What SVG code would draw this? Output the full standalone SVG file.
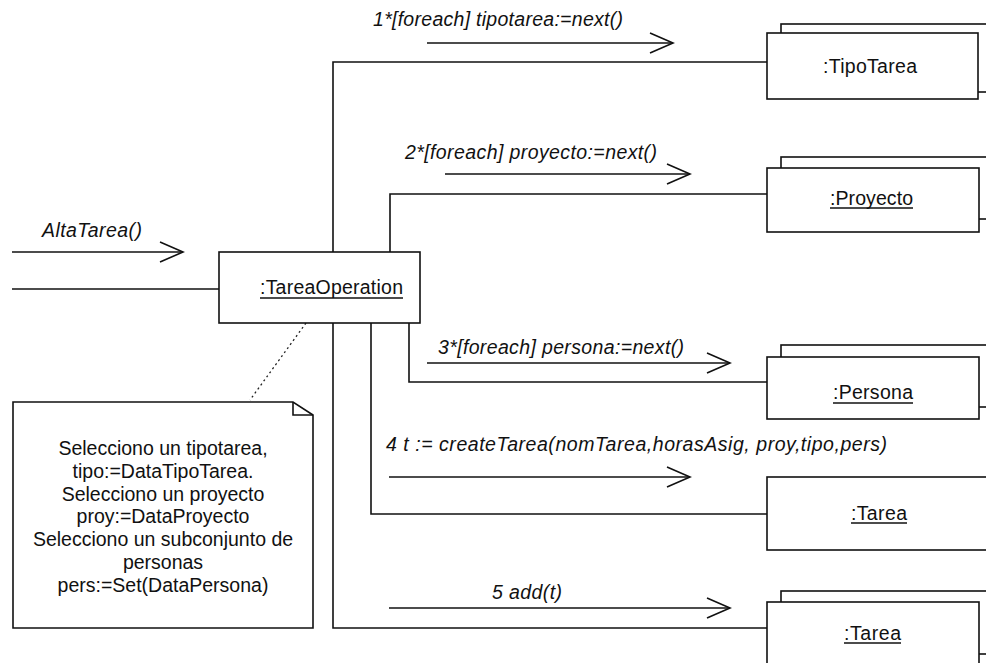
<svg xmlns="http://www.w3.org/2000/svg" width="986" height="663" viewBox="0 0 986 663">
  <style>
    .box { fill: #fff; stroke: #111; stroke-width: 1.6; }
    .link { fill: none; stroke: #111; stroke-width: 1.6; }
    .msg { fill: none; stroke: #111; stroke-width: 1.6; marker-end: url(#open); }
    .ul { stroke: #111; stroke-width: 1.3; }
    .lbl { font-family: "Liberation Sans", Arial, sans-serif; font-size: 19.5px; font-style: italic; fill: #111; }
    .name { font-family: "Liberation Sans", Arial, sans-serif; font-size: 19.5px; fill: #111; }
    .note { font-family: "Liberation Sans", Arial, sans-serif; font-size: 19.5px; fill: #111; text-anchor: middle; }
    .anchor { fill: none; stroke: #222; stroke-width: 1.3; stroke-dasharray: 2 3; }
  </style>
  <defs>
    <!-- open V arrowhead used by every message -->
    <marker id="open" markerUnits="userSpaceOnUse" viewBox="0 0 26 22" markerWidth="26" markerHeight="22" refX="24" refY="11" orient="auto">
      <path d="M1,1 L24,11 L1,21" fill="none" stroke="#111" stroke-width="1.6"/>
    </marker>
  </defs>

  <rect width="986" height="663" fill="#fff"/>

  <!-- links and messages -->
  <g id="connectors">
    <path class="link" d="M12,289 H219"/>
    <path class="link" d="M333,252 V62 H767"/>
    <path class="link" d="M390,252 V194 H767"/>
    <path class="link" d="M409,323 V382 H767"/>
    <path class="link" d="M371,323 V514 H767"/>
    <path class="link" d="M333,323 V628 H767"/>

    <path class="msg" d="M12,252 H183"/>
    <text class="lbl" x="42" y="237" textLength="100" lengthAdjust="spacing">AltaTarea()</text>

    <path class="msg" d="M427,43 H673"/>
    <text class="lbl" x="373" y="26" textLength="250" lengthAdjust="spacing">1*[foreach] tipotarea:=next()</text>

    <path class="msg" d="M445,174 H690"/>
    <text class="lbl" x="405" y="159" textLength="252" lengthAdjust="spacing">2*[foreach] proyecto:=next()</text>

    <path class="msg" d="M427,363 H730"/>
    <text class="lbl" x="438" y="354" textLength="246" lengthAdjust="spacing">3*[foreach] persona:=next()</text>

    <path class="msg" d="M389,477 H690"/>
    <text class="lbl" x="386" y="451" textLength="501" lengthAdjust="spacing">4 t := createTarea(nomTarea,horasAsig, proy,tipo,pers)</text>

    <path class="msg" d="M389,608 H730"/>
    <text class="lbl" x="492" y="599" textLength="70" lengthAdjust="spacing">5 add(t)</text>

    <path class="anchor" d="M306,323 L250,400"/>
  </g>

  <g id="tareaOperation">
    <rect class="box" x="219" y="252" width="201" height="71"/>
    <text class="name" x="260" y="294" textLength="143" lengthAdjust="spacing">:TareaOperation</text>
    <line class="ul" x1="260" y1="298" x2="403" y2="298"/>
  </g>

  <g id="tipoTarea">
    <rect class="box" x="781" y="24" width="250" height="68"/>
    <rect class="box" x="767" y="33" width="211" height="66"/>
    <text class="name" x="823" y="73" textLength="94" lengthAdjust="spacing">:TipoTarea</text>
  </g>

  <g id="proyecto">
    <rect class="box" x="781" y="157" width="250" height="62"/>
    <rect class="box" x="767" y="168" width="212" height="64"/>
    <text class="name" x="830" y="205" textLength="83" lengthAdjust="spacing">:Proyecto</text>
    <line class="ul" x1="830" y1="208" x2="913" y2="208"/>
  </g>

  <g id="persona">
    <rect class="box" x="781" y="345" width="250" height="62"/>
    <rect class="box" x="767" y="357" width="212" height="62"/>
    <text class="name" x="833" y="399" textLength="80" lengthAdjust="spacing">:Persona</text>
    <line class="ul" x1="833" y1="403" x2="913" y2="403"/>
  </g>

  <g id="tareaNueva">
    <rect class="box" x="767" y="477" width="250" height="73"/>
    <text class="name" x="851" y="520" textLength="56" lengthAdjust="spacing">:Tarea</text>
    <line class="ul" x1="851" y1="523" x2="907" y2="523"/>
  </g>

  <g id="tareas">
    <rect class="box" x="781" y="591" width="250" height="63"/>
    <rect class="box" x="767" y="602" width="212" height="70"/>
    <text class="name" x="844" y="640" textLength="57" lengthAdjust="spacing">:Tarea</text>
    <line class="ul" x1="844" y1="643" x2="901" y2="643"/>
  </g>

  <g id="nota">
    <path class="box" d="M13,402 H293 L313,415 V628 H13 Z"/>
    <path class="link" d="M293,402 V415 H313"/>
    <text class="note" x="163" y="455">Selecciono un tipotarea,</text>
    <text class="note" x="163" y="478">tipo:=DataTipoTarea.</text>
    <text class="note" x="163" y="501">Selecciono un proyecto</text>
    <text class="note" x="163" y="523">proy:=DataProyecto</text>
    <text class="note" x="163" y="546">Selecciono un subconjunto de</text>
    <text class="note" x="163" y="569">personas</text>
    <text class="note" x="163" y="592">pers:=Set(DataPersona)</text>
  </g>
</svg>
